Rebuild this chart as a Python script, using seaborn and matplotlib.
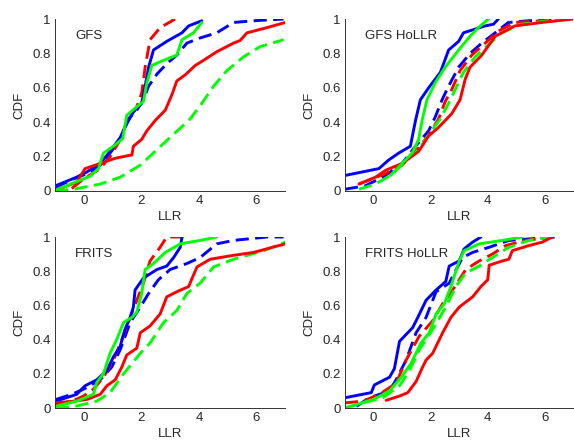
import matplotlib
matplotlib.use("Agg")
import matplotlib.pyplot as plt
import seaborn as sns

# ---- GFS ----
gfs_b_x = [-1.0, -0.36, 0.10, 0.57, 0.91, 1.26, 1.55, 1.84, 2.07, 2.25, 2.54, 2.88, 3.23, 3.58, 4.04, 4.62, 5.20, 5.90, 6.94]
gfs_b_y = [0.02, 0.07, 0.10, 0.15, 0.22, 0.30, 0.42, 0.47, 0.53, 0.61, 0.68, 0.74, 0.79, 0.86, 0.89, 0.92, 0.98, 0.99, 1.0]
gfs_r_x = [-0.42, -0.01, 0.57, 0.91, 1.20, 1.49, 1.84, 2.01, 2.13, 2.30, 2.65, 3.17]
gfs_r_y = [0.014, 0.07, 0.13, 0.20, 0.28, 0.40, 0.49, 0.57, 0.72, 0.88, 0.95, 1.0]
gfs_g_x = [-1.0, -0.36, 0.57, 1.26, 1.96, 2.54, 3.12, 3.70, 4.10, 4.51, 4.97, 5.55, 6.13, 6.94]
gfs_g_y = [0.0, 0.01, 0.04, 0.08, 0.15, 0.24, 0.33, 0.42, 0.51, 0.61, 0.70, 0.78, 0.84, 0.88]
gfs_hb_x = [-0.94, -0.25, 0.10, 0.57, 0.91, 1.26, 1.49, 1.72, 2.01, 2.13, 2.25, 2.42, 2.88, 3.41, 3.64, 4.10]
gfs_hb_y = [0.033, 0.08, 0.11, 0.16, 0.23, 0.31, 0.39, 0.46, 0.51, 0.61, 0.72, 0.82, 0.87, 0.92, 0.96, 0.99]
gfs_hr_x = [-0.94, -0.25, 0.04, 0.57, 1.09, 1.67, 1.72, 2.01, 2.19, 2.48, 2.83, 3.06, 3.23, 3.52, 3.87, 4.16, 4.62, 5.20, 5.43, 5.67, 6.36, 7.0]
gfs_hr_y = [0.008, 0.05, 0.13, 0.16, 0.19, 0.21, 0.26, 0.30, 0.35, 0.41, 0.47, 0.56, 0.64, 0.675, 0.73, 0.76, 0.81, 0.86, 0.875, 0.92, 0.95, 0.98]
gfs_hg_x = [-1.0, -0.36, 0.22, 0.51, 0.68, 1.03, 1.35, 1.49, 1.84, 2.07, 2.19, 2.36, 2.77, 3.23, 3.41, 3.81, 4.10]
gfs_hg_y = [0.004, 0.047, 0.086, 0.13, 0.22, 0.26, 0.305, 0.44, 0.49, 0.52, 0.63, 0.73, 0.76, 0.79, 0.88, 0.92, 0.98]

# ---- GFS HoLLR ----
gh_b_x = [-1.0, -0.28, 0.42, 1.0, 1.47, 1.93, 2.16, 2.40, 2.63, 2.98, 3.38, 3.79, 4.26, 4.72, 5.42, 6.70]
gh_b_y = [0.01, 0.03, 0.09, 0.16, 0.26, 0.35, 0.43, 0.53, 0.61, 0.72, 0.80, 0.86, 0.92, 0.98, 0.99, 1.0]
gh_r_x = [-0.51, 0.42, 1.0, 1.58, 1.99, 2.28, 2.51, 2.74, 3.03, 3.44, 3.91, 4.37, 4.95, 5.88, 6.93]
gh_r_y = [0.04, 0.10, 0.15, 0.25, 0.34, 0.42, 0.52, 0.59, 0.70, 0.79, 0.86, 0.93, 0.98, 0.99, 1.0]
gh_g_x = [-0.51, 0.07, 0.59, 1.06, 1.58, 1.99, 2.34, 2.63, 2.86, 3.15, 3.56, 4.02, 4.49, 5.19, 6.12, 6.93]
gh_g_y = [0.01, 0.04, 0.09, 0.16, 0.24, 0.34, 0.42, 0.51, 0.59, 0.69, 0.78, 0.85, 0.92, 0.97, 0.99, 1.0]
gh_hb_x = [-1.0, 0.19, 0.53, 0.88, 1.29, 1.47, 1.64, 1.93, 2.34, 2.63, 2.98, 3.15, 3.91, 4.20, 4.37]
gh_hb_y = [0.09, 0.13, 0.18, 0.22, 0.26, 0.41, 0.53, 0.60, 0.69, 0.82, 0.87, 0.92, 0.96, 0.97, 1.0]
gh_hr_x = [-0.51, 0.07, 0.42, 1.0, 1.58, 1.93, 2.28, 2.74, 3.03, 3.21, 3.38, 3.79, 4.26, 4.95, 5.88, 6.99]
gh_hr_y = [0.04, 0.08, 0.12, 0.16, 0.23, 0.32, 0.37, 0.45, 0.53, 0.65, 0.72, 0.79, 0.90, 0.96, 0.98, 1.0]
gh_hg_x = [0.59, 1.0, 1.35, 1.58, 1.70, 1.87, 2.16, 2.51, 2.98, 3.38, 3.67, 4.02]
gh_hg_y = [0.09, 0.16, 0.22, 0.30, 0.41, 0.53, 0.63, 0.72, 0.82, 0.90, 0.95, 1.0]

# ---- FRITS ----
fr_b_x = [-0.97, -0.42, -0.01, 0.57, 0.97, 1.26, 1.61, 1.96, 2.25, 2.59, 3.00, 3.58, 4.04, 4.62, 5.20, 6.36, 6.94]
fr_b_y = [0.05, 0.08, 0.11, 0.165, 0.24, 0.34, 0.50, 0.59, 0.67, 0.75, 0.81, 0.845, 0.88, 0.96, 0.98, 1.0, 1.0]
fr_r_x = [-0.97, -0.42, -0.01, 0.33, 0.68, 1.03, 1.32, 1.61, 1.84, 2.07, 2.30, 2.65, 2.88, 3.46]
fr_r_y = [0.02, 0.04, 0.07, 0.11, 0.18, 0.28, 0.40, 0.53, 0.63, 0.73, 0.86, 0.94, 1.0, 1.0]
fr_g_x = [-0.97, -0.42, 0.45, 0.91, 1.38, 1.96, 2.30, 2.77, 3.23, 3.58, 4.04, 4.51, 5.20, 6.25, 7.0]
fr_g_y = [0.0, 0.005, 0.04, 0.09, 0.20, 0.32, 0.38, 0.50, 0.57, 0.67, 0.73, 0.825, 0.87, 0.92, 0.97]
fr_hb_x = [-0.97, -0.25, 0.04, 0.45, 0.80, 1.03, 1.26, 1.43, 1.61, 1.72, 1.78, 2.07, 2.54, 2.88, 3.12, 3.35, 3.41]
fr_hb_y = [0.04, 0.08, 0.13, 0.165, 0.22, 0.30, 0.36, 0.46, 0.53, 0.59, 0.69, 0.76, 0.81, 0.83, 0.88, 0.94, 1.0]
fr_hr_x = [-0.97, -0.36, 0.10, 0.57, 0.80, 1.09, 1.32, 1.49, 1.84, 1.96, 2.30, 2.65, 2.88, 3.23, 3.64, 3.93, 4.39, 5.09, 5.90, 7.0]
fr_hr_y = [0.03, 0.04, 0.05, 0.08, 0.13, 0.165, 0.24, 0.31, 0.35, 0.44, 0.48, 0.55, 0.65, 0.68, 0.71, 0.825, 0.87, 0.89, 0.91, 0.96]
fr_hg_x = [-0.97, -0.25, 0.33, 0.45, 0.68, 0.91, 1.14, 1.38, 1.67, 1.84, 2.01, 2.13, 2.42, 2.83, 3.35, 4.04, 4.62]
fr_hg_y = [0.01, 0.04, 0.08, 0.15, 0.20, 0.32, 0.40, 0.50, 0.53, 0.56, 0.67, 0.81, 0.845, 0.91, 0.96, 0.98, 1.0]

# ---- FRITS HoLLR ----
fh_b_x = [-0.6, -0.14, 0.56, 0.79, 1.14, 1.49, 1.84, 2.19, 2.65, 2.83, 3.12, 3.47, 4.05, 4.74, 6.37]
fh_b_y = [0.01, 0.06, 0.10, 0.165, 0.28, 0.44, 0.53, 0.68, 0.73, 0.79, 0.88, 0.91, 0.94, 0.98, 1.0]
fh_r_x = [-1.0, -0.37, 0.21, 0.79, 1.14, 1.60, 2.07, 2.42, 2.77, 3.23, 3.70, 4.16, 4.63, 5.33, 6.26]
fh_r_y = [0.03, 0.04, 0.08, 0.145, 0.28, 0.42, 0.51, 0.61, 0.69, 0.81, 0.86, 0.90, 0.95, 0.98, 1.0]
fh_g_x = [-1.0, -0.37, 0.33, 0.91, 1.26, 1.60, 2.07, 2.53, 2.88, 3.23, 3.70, 4.16, 4.74, 5.44, 6.14]
fh_g_y = [0.0, 0.03, 0.06, 0.13, 0.22, 0.34, 0.46, 0.59, 0.71, 0.79, 0.83, 0.88, 0.94, 0.98, 1.0]
fh_hb_x = [-1.0, -0.08, 0.03, 0.56, 0.73, 0.91, 1.37, 1.55, 1.84, 2.19, 2.53, 2.65, 3.0, 3.17, 3.47, 3.76]
fh_hb_y = [0.06, 0.09, 0.135, 0.18, 0.23, 0.39, 0.47, 0.53, 0.63, 0.69, 0.74, 0.83, 0.86, 0.93, 0.97, 1.0]
fh_hr_x = [0.44, 0.91, 1.20, 1.49, 1.72, 1.84, 2.07, 2.42, 2.71, 3.0, 3.47, 3.76, 4.0, 4.05, 4.51, 4.74, 4.86, 5.44, 5.91, 6.26]
fh_hr_y = [0.045, 0.07, 0.09, 0.155, 0.24, 0.28, 0.32, 0.44, 0.53, 0.59, 0.65, 0.71, 0.75, 0.835, 0.86, 0.87, 0.92, 0.95, 0.97, 1.0]
fh_hg_x = [-1.0, -0.01, 0.56, 0.97, 1.31, 1.66, 1.95, 2.19, 2.48, 2.71, 3.0, 3.17, 3.70, 4.51, 5.21]
fh_hg_y = [0.0, 0.05, 0.10, 0.18, 0.26, 0.38, 0.44, 0.55, 0.61, 0.71, 0.86, 0.92, 0.96, 0.98, 1.0]

panel_titles = ["GFS", "GFS HoLLR", "FRITS", "FRITS HoLLR"]
x_ticks = [0, 2, 4, 6]
y_ticks = [0, 0.2, 0.4, 0.6, 0.8, 1]
y_tick_labels = ["0", "0.2", "0.4", "0.6", "0.8", "1"]

panels = [
    [(gfs_b_x, gfs_b_y), (gfs_r_x, gfs_r_y), (gfs_g_x, gfs_g_y),
     (gfs_hb_x, gfs_hb_y), (gfs_hr_x, gfs_hr_y), (gfs_hg_x, gfs_hg_y)],
    [(gh_b_x, gh_b_y), (gh_r_x, gh_r_y), (gh_g_x, gh_g_y),
     (gh_hb_x, gh_hb_y), (gh_hr_x, gh_hr_y), (gh_hg_x, gh_hg_y)],
    [(fr_b_x, fr_b_y), (fr_r_x, fr_r_y), (fr_g_x, fr_g_y),
     (fr_hb_x, fr_hb_y), (fr_hr_x, fr_hr_y), (fr_hg_x, fr_hg_y)],
    [(fh_b_x, fh_b_y), (fh_r_x, fh_r_y), (fh_g_x, fh_g_y),
     (fh_hb_x, fh_hb_y), (fh_hr_x, fh_hr_y), (fh_hg_x, fh_hg_y)],
]

# dashed first, then solid on top
dash = (0, (4.5, 2.2))
line_styles = [
    ("#0000ff", dash), ("#ff0000", dash), ("#00ff00", dash),
    ("#0000ff", "-"), ("#ff0000", "-"), ("#00ff00", "-"),
]

sns.set_style("white")
plt.rcParams["font.family"] = ["Liberation Sans", "DejaVu Sans"]
plt.rcParams["font.size"] = 9.5

fig = plt.figure(figsize=(5.74, 4.43), dpi=100)
rects = [
    [0.096, 0.569, 0.401, 0.388],
    [0.601, 0.569, 0.398, 0.388],
    [0.096, 0.079, 0.401, 0.386],
    [0.601, 0.079, 0.398, 0.386],
]

for rect, title, curves in zip(rects, panel_titles, panels):
    ax = fig.add_axes(rect)
    for (xs, ys), (color, ls) in zip(curves, line_styles):
        sns.lineplot(x=xs, y=ys, color=color, linestyle=ls, linewidth=2.1,
                     estimator=None, sort=False, ax=ax)
    ax.set_xlim(-1, 7)
    ax.set_ylim(0, 1)
    ax.set_xticks(x_ticks)
    ax.set_yticks(y_ticks)
    ax.set_yticklabels(y_tick_labels)
    ax.set_xlabel("LLR", labelpad=3)
    ax.set_ylabel("CDF", labelpad=5)
    ax.tick_params(direction="in", length=2.5, width=0.6, color="#333333",
                   labelsize=9.5, pad=3)
    sns.despine(ax=ax)
    for side in ["left", "bottom"]:
        ax.spines[side].set_color("#333333")
        ax.spines[side].set_linewidth(0.7)
    ax.text(-0.3, 0.9, title, fontsize=9.5, ha="left", va="center")

fig.savefig("out.png", dpi=100)
